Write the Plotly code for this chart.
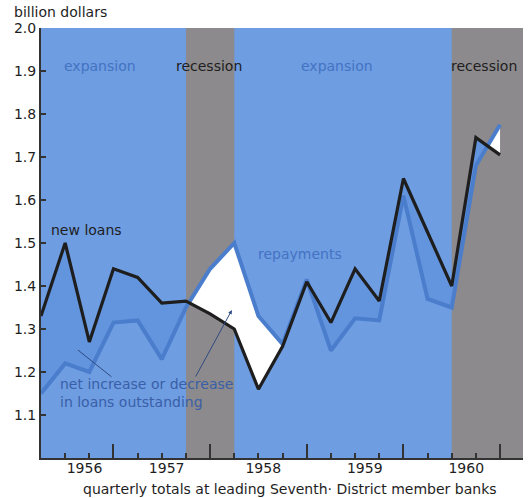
import plotly.graph_objects as go

# ---------------- data ----------------
quarter_index = list(range(20))  # quarterly observations, late 1955 .. 1960
new_loans = [1.33, 1.50, 1.27, 1.44, 1.42, 1.36, 1.365, 1.335, 1.30, 1.16,
             1.26, 1.41, 1.315, 1.44, 1.365, 1.65, 1.525, 1.40, 1.745, 1.705]
repayments = [1.15, 1.22, 1.20, 1.315, 1.32, 1.23, 1.35, 1.44, 1.50, 1.33,
              1.265, 1.415, 1.25, 1.325, 1.32, 1.61, 1.37, 1.35, 1.68, 1.775]
year_labels = ["1956", "1957", "1958", "1959", "1960"]
year_label_pos = [1.8, 5.2, 9.2, 13.4, 17.6]
year_tick_pos = [3, 7, 11, 15, 19]
recessions = [(6, 8), (17, 19.95)]
y_ticks = [1.1, 1.2, 1.3, 1.4, 1.5, 1.6, 1.7, 1.8, 1.9, 2.0]

# ---------------- styles ----------------
BG_BLUE = "#6e9de2"
GRAY = "#8c8a8c"
LINE_BLUE = "#4a7dcc"
FILL_BLUE = "#6395de"
TXT_BLUE = "#4473c2"
DARK = "#1e1e1e"
FONT = "DejaVu Sans, sans-serif"


def with_crossings(x, a, b):
    xs, A, B = [], [], []
    for i in range(len(x)):
        if i > 0:
            d0 = a[i - 1] - b[i - 1]
            d1 = a[i] - b[i]
            if d0 * d1 < 0:
                t = d0 / (d0 - d1)
                xc = x[i - 1] + t * (x[i] - x[i - 1])
                yc = a[i - 1] + t * (a[i] - a[i - 1])
                xs.append(xc); A.append(yc); B.append(yc)
        xs.append(x[i]); A.append(a[i]); B.append(b[i])
    lo = [min(p, q) for p, q in zip(A, B)]
    return xs, A, B, lo


xs, nl_aug, rp_aug, lower = with_crossings(quarter_index, new_loans, repayments)

fig = go.Figure()

# fill where new loans exceed repayments (net increase)
fig.add_trace(go.Scatter(x=xs, y=lower, mode="lines", line=dict(width=0),
                         hoverinfo="skip", showlegend=False))
fig.add_trace(go.Scatter(x=xs, y=nl_aug, mode="lines", line=dict(width=0),
                         fill="tonexty", fillcolor=FILL_BLUE,
                         hoverinfo="skip", showlegend=False))
# fill where repayments exceed new loans (net decrease)
fig.add_trace(go.Scatter(x=xs, y=lower, mode="lines", line=dict(width=0),
                         hoverinfo="skip", showlegend=False))
fig.add_trace(go.Scatter(x=xs, y=rp_aug, mode="lines", line=dict(width=0),
                         fill="tonexty", fillcolor="#ffffff",
                         hoverinfo="skip", showlegend=False))

fig.add_trace(go.Scatter(x=quarter_index, y=repayments, mode="lines",
                         name="repayments",
                         line=dict(color=LINE_BLUE, width=4), showlegend=False))
fig.add_trace(go.Scatter(x=quarter_index, y=new_loans, mode="lines",
                         name="new loans",
                         line=dict(color=DARK, width=3.2), showlegend=False))
# dummy trace to carry the year-label axis
fig.add_trace(go.Scatter(x=[year_label_pos[0]], y=[1.5], xaxis="x2",
                         mode="markers", marker=dict(opacity=0),
                         hoverinfo="skip", showlegend=False))

shapes = []
for x0, x1 in recessions:
    shapes.append(dict(type="rect", xref="x", yref="paper", x0=x0, x1=x1,
                       y0=0, y1=1, fillcolor=GRAY, line=dict(width=0),
                       layer="below"))

annotations = [
    dict(text="billion dollars", xref="paper", yref="paper", x=-0.060, y=1.037,
         xanchor="left", yanchor="middle", showarrow=False,
         font=dict(size=14, color=DARK, family=FONT)),
    dict(text="expansion", x=2.44, y=1.912, showarrow=False,
         font=dict(size=14, color=TXT_BLUE, family=FONT)),
    dict(text="recession", x=6.95, y=1.912, showarrow=False,
         font=dict(size=14, color=DARK, family=FONT)),
    dict(text="expansion", x=12.25, y=1.912, showarrow=False,
         font=dict(size=14, color=TXT_BLUE, family=FONT)),
    dict(text="recession", x=18.34, y=1.912, showarrow=False,
         font=dict(size=14, color=DARK, family=FONT)),
    dict(text="new loans", x=1.9, y=1.53, showarrow=False,
         font=dict(size=14, color=DARK, family=FONT)),
    dict(text="repayments", x=10.72, y=1.474, showarrow=False,
         font=dict(size=14, color=TXT_BLUE, family=FONT)),
    dict(text="net increase or decrease<br>in loans outstanding", x=0.7, y=1.151,
         xanchor="left", yanchor="middle", align="left", showarrow=False,
         font=dict(size=14, color="#3a5fa8", family=FONT)),
    dict(text="", x=1.53, y=1.251, ax=2.98, ay=1.186, axref="x", ayref="y",
         showarrow=True, arrowhead=0, arrowwidth=1, arrowcolor="#2e4a80"),
    dict(text="", x=7.9, y=1.344, ax=6.37, ay=1.186, axref="x", ayref="y",
         showarrow=True, arrowhead=2, arrowsize=0.8, arrowwidth=1,
         arrowcolor="#2e4a80"),
    dict(text="quarterly totals at leading Seventh\u00b7 District member banks",
         xref="paper", yref="paper", x=0.517, y=-0.072, xanchor="center",
         yanchor="middle", showarrow=False,
         font=dict(size=14, color=DARK, family=FONT)),
]

fig.update_layout(
    width=529, height=498, autosize=False,
    margin=dict(l=41, r=6, t=28, b=40),
    paper_bgcolor="white", plot_bgcolor=BG_BLUE,
    font=dict(family=FONT, color=DARK, size=14),
    shapes=shapes, annotations=annotations,
    xaxis=dict(range=[0, 19.95], showgrid=False, zeroline=False,
               automargin=False,
               showline=True, linecolor="#333", linewidth=2,
               tickmode="array", tickvals=year_tick_pos, ticks="inside",
               ticklen=14, tickwidth=2, tickcolor="#333",
               showticklabels=False,
               minor=dict(ticks="inside", ticklen=5, tickwidth=1.5,
                          tickcolor="#333", dtick=1, tick0=0)),
    xaxis2=dict(range=[0, 19.95], overlaying="x", anchor="y", side="bottom",
                automargin=False,
                showgrid=False, zeroline=False, showline=False,
                tickmode="array", tickvals=year_label_pos, ticktext=year_labels,
                ticks="", tickfont=dict(size=14, color=DARK, family=FONT)),
    yaxis=dict(range=[1.0, 2.0], showgrid=False, zeroline=False,
               automargin=False,
               showline=True, linecolor="#333", linewidth=2,
               tickmode="array", tickvals=y_ticks,
               ticktext=[f"{v:.1f}" for v in y_ticks],
               ticks="inside", ticklen=5, tickwidth=1.5, tickcolor="#333",
               tickfont=dict(size=14, color=DARK, family=FONT)),
    showlegend=False,
)

fig.write_html("out.html",
               config={"displayModeBar": False},
               post_script="document.body.style.margin='0px';"
                           "document.body.style.overflow='hidden';")
